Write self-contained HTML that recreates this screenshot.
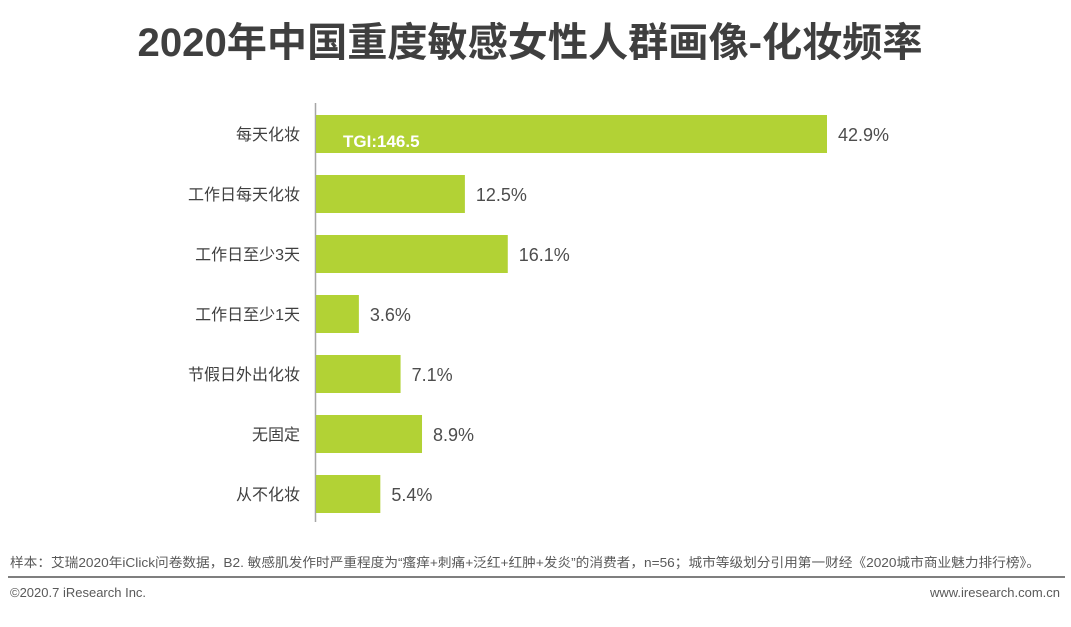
<!DOCTYPE html>
<html><head><meta charset="utf-8"><style>
body{margin:0;width:1071px;height:622px;background:#fff;overflow:hidden;font-family:"Liberation Sans","Noto Sans CJK SC",sans-serif;}
</style></head><body>
<svg width="1071" height="622" xmlns="http://www.w3.org/2000/svg">
<text x="530" y="56" text-anchor="middle" font-size="40" font-weight="bold" fill="#3f3f3f" textLength="785" lengthAdjust="spacingAndGlyphs" font-family="Liberation Sans, Noto Sans CJK SC, sans-serif">2020年中国重度敏感女性人群画像-化妆频率</text>
<line x1="315.5" y1="103" x2="315.5" y2="522" stroke="#a6a6a6" stroke-width="1.5"/>
<g id="bars"></g>
<text x="10" y="567" font-size="13" fill="#595959" textLength="1030" lengthAdjust="spacingAndGlyphs" font-family="Liberation Sans, Noto Sans CJK SC, sans-serif">样本：艾瑞2020年iClick问卷数据，B2. 敏感肌发作时严重程度为“瘙痒+刺痛+泛红+红肿+发炎”的消费者，n=56；城市等级划分引用第一财经《2020城市商业魅力排行榜》。</text>
<line x1="8" y1="577" x2="1065" y2="577" stroke="#7f7f7f" stroke-width="2"/>
<text x="10" y="597" font-size="13" fill="#595959">©2020.7 iResearch Inc.</text>
<text x="1060" y="597" font-size="13" fill="#595959" text-anchor="end">www.iresearch.com.cn</text>
</svg>
<script>
const categories=["每天化妆","工作日每天化妆","工作日至少3天","工作日至少1天","节假日外出化妆","无固定","从不化妆"];
const values=[42.9,12.5,16.1,3.6,7.1,8.9,5.4];
const valueLabels=["42.9%","12.5%","16.1%","3.6%","7.1%","8.9%","5.4%"];
const tgiLabel="TGI:146.5";
const NS="http://www.w3.org/2000/svg";
const g=document.getElementById('bars');
const x0=316, pxPer=511/42.9;
const xs=v=>x0+v*pxPer;
const yc=i=>134+i*60;
const bh=38;
categories.forEach((c,i)=>{
  const r=document.createElementNS(NS,'rect');
  r.setAttribute('x',x0);r.setAttribute('y',yc(i)-bh/2);
  r.setAttribute('width',xs(values[i])-x0);r.setAttribute('height',bh);
  r.setAttribute('fill','#b2d235');
  
  
  g.appendChild(r);
  const l=document.createElementNS(NS,'text');
  l.setAttribute('x',300);l.setAttribute('y',yc(i)+6);
  l.setAttribute('text-anchor','end');l.setAttribute('font-size','16');l.setAttribute('fill','#404040');
  l.textContent=c;
  
  
  g.appendChild(l);
  const v=document.createElementNS(NS,'text');
  v.setAttribute('x',xs(values[i])+11);v.setAttribute('y',yc(i)+7);
  v.setAttribute('font-size','18');v.setAttribute('fill','#4d4d4d');
  v.textContent=valueLabels[i];
  
  
  g.appendChild(v);
});
const t=document.createElementNS(NS,'text');
t.setAttribute('x',343);t.setAttribute('y',yc(0)+13);
t.setAttribute('font-size','17');t.setAttribute('font-weight','bold');t.setAttribute('fill','#fff');
t.textContent=tgiLabel;


g.appendChild(t);
</script>
</body></html>
